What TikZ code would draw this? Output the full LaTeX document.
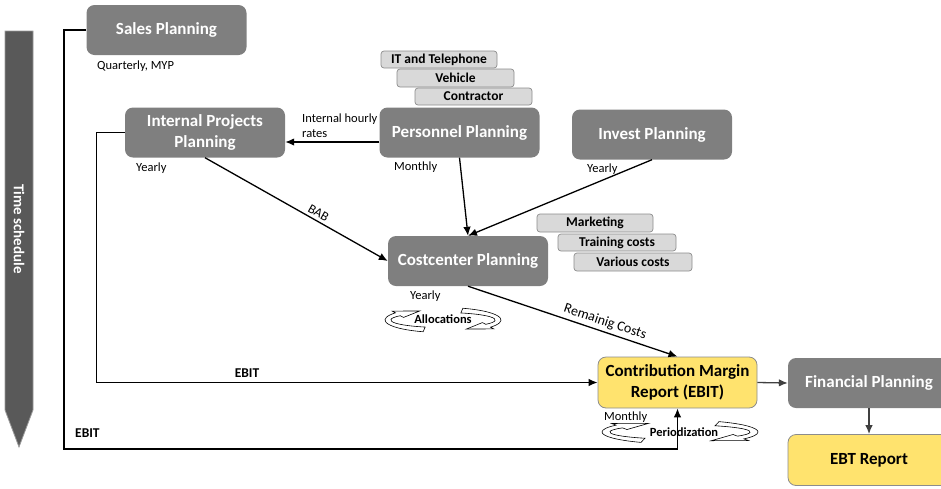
\documentclass[tikz,border=0pt]{standalone}
\usepackage{fontspec}
\setmainfont{Carlito}
\usetikzlibrary{arrows.meta}

\definecolor{boxgray}{HTML}{7F7F7F}
\definecolor{tagfill}{HTML}{D9D9D9}
\definecolor{tagline}{HTML}{8C8C8C}
\definecolor{cmyellow}{HTML}{FFE36E}
\definecolor{timegray}{HTML}{595959}
\definecolor{timeedge}{HTML}{9A9A9A}
\definecolor{flowgray}{HTML}{404040}

\tikzset{
  plan/.style={fill=boxgray, draw=none, rounded corners=8pt, text=white,
    font=\fontsize{17}{21}\selectfont\bfseries, align=center,
    minimum width=160pt, minimum height=50pt, inner sep=2pt},
  report/.style={plan, fill=cmyellow, draw=tagline, line width=0.8pt, text=black},
  tag/.style={draw=tagline, fill=tagfill, line width=0.7pt, rounded corners=3pt,
    font=\fontsize{13.5}{15}\selectfont\bfseries,
    minimum width=117pt, minimum height=18pt, inner sep=0pt},
  note/.style={font=\fontsize{12.5}{14.5}\selectfont, inner sep=0pt, anchor=west, align=left},
  boldnote/.style={font=\fontsize{13.5}{15}\selectfont\bfseries, inner sep=0pt},
  slopelabel/.style={sloped, anchor=south, inner sep=0pt, yshift=3pt},
  flow/.style={line width=1.3pt, -{Latex[length=9pt,width=7.5pt]}},
  grayflow/.style={line width=1.3pt, draw=flowgray, -{Latex[length=9pt,width=7.5pt]}},
  cyc/.style={draw=black, fill=white, line width=0.6pt},
  % two curved arrows running round a flat ellipse; #1 = start angle of the left piece
  pics/cyclearrows/.style={code={
    \path[cyc] (#1:1 and 1) arc[start angle=#1, end angle=215, x radius=1, y radius=1]
      -- (215:1.07 and 1.24) -- (245:0.95 and 0.8) -- (215:0.83 and 0.36)
      -- (215:0.9 and 0.6) arc[start angle=215, end angle=#1, x radius=0.9, y radius=0.6]
      -- cycle;
    \path[cyc] (#1+180:1 and 1) arc[start angle=#1+180, end angle=395, x radius=1, y radius=1]
      -- (395:1.07 and 1.24) -- (425:0.95 and 0.8) -- (395:0.83 and 0.36)
      -- (395:0.9 and 0.6) arc[start angle=395, end angle=#1+180, x radius=0.9, y radius=0.6]
      -- cycle;
  }}
}

\begin{document}
\begin{tikzpicture}[x=1pt, y=-1pt]
\useasboundingbox (0,0) rectangle (941,488);

% time axis
\path[fill=timegray, draw=timeedge, line width=0.8pt]
  (5,31) -- (33,31) -- (33,410) -- (19,447) -- (5,410) -- cycle;
\node[rotate=-90, text=white, font=\fontsize{15}{17}\selectfont\bfseries] (time) at (19,229) {Time schedule};

% planning boxes
\node[plan] (sales) at (166.5,30) {Sales Planning};
\node[plan] (ipp) at (205,132.5) {Internal Projects\\Planning};
\node[plan] (pers) at (459.5,132.5) {Personnel Planning};
\node[plan] (inv) at (652,134.5) {Invest Planning};
\node[plan] (cc) at (468,261) {Costcenter Planning};
\node[report, minimum width=159pt, minimum height=51pt] (cm) at (677.5,382.5) {Contribution Margin\\Report (EBIT)};
\node[plan, minimum width=162pt] (fin) at (869,383) {Financial Planning};
\node[report, minimum width=162pt, minimum height=51pt] (ebt) at (869,460) {EBT Report};

% cost type tags
\node[tag, minimum width=116pt, minimum height=17pt] (it) at (439,59.5) {IT and Telephone};
\node[tag] (veh) at (455.5,78) {Vehicle};
\node[tag, minimum height=17pt] (con) at (473.5,96.5) {Contractor};
\node[tag, minimum width=116pt] (mkt) at (595,223) {Marketing};
\node[tag, minimum width=118pt, minimum height=17pt] (trn) at (617,242.5) {Training costs};
\node[tag, minimum width=118pt] (var) at (633,262) {Various costs};

% frequencies
\node[note] (qmyp) at (97,66) {Quarterly, MYP};
\node[note] (yipp) at (136,168) {Yearly};
\node[note] (mpers) at (394,167) {Monthly};
\node[note] (yinv) at (587,169) {Yearly};
\node[note] (ycc) at (410,296) {Yearly};
\node[note] (mcm) at (604,417) {Monthly};
\node[note] (ihr) at (302,125.5) {Internal hourly\\rates};

% allocation and periodization cycles
\path (443,320) pic[xscale=58, yscale=12.5] {cyclearrows=110};
\node[boldnote, font=\fontsize{12.5}{14}\selectfont\bfseries] (alloc) at (443,319) {Allocations};
\path (680,432) pic[xscale=78, yscale=12] {cyclearrows=120};
\node[boldnote, font=\fontsize{12.5}{14}\selectfont\bfseries] (period) at (684,432) {Periodization};

% connectors
\draw[flow] ([yshift=-9.5pt]pers.west) -- ([yshift=-9.5pt]ipp.east);
\draw[flow] (ipp.south) -- node[pos=0.6, slopelabel, font=\fontsize{13}{15}\selectfont] (bab) {BAB} (cc.west);
\draw[flow] (pers.south) -- (cc.north);
\draw[flow] (inv.south) -- (cc.north);
\draw[flow] (cc.south) -- node[pos=0.64, slopelabel, font=\fontsize{14}{16}\selectfont] (rem) {Remainig Costs} (cm.north);
\draw[flow] (ipp.west) -- ++(-28,0) |- (cm.west);
\draw[flow] (sales.west) -| (64,449) -| (cm.south);
\draw[grayflow] (cm.east) -- (fin.west);
\draw[grayflow] (fin.south) -- (ebt.north);

\node[boldnote, anchor=south] (ebit1) at (247,378) {EBIT};
\node[boldnote, anchor=west] (ebit2) at (75,433) {EBIT};
\end{tikzpicture}
\end{document}
